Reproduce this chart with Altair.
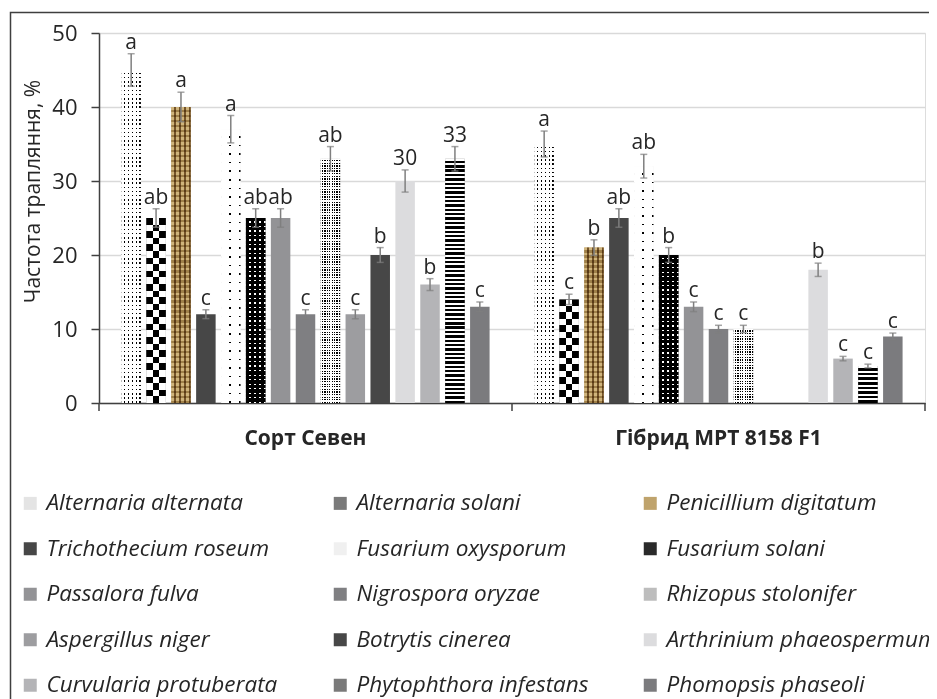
import altair as alt
import pandas as pd

groups = ["Сорт Севен", "Гібрид МРТ 8158 F1"]
species = [
    "Alternaria alternata", "Alternaria solani", "Penicillium digitatum",
    "Trichothecium roseum", "Fusarium oxysporum", "Fusarium solani",
    "Passalora fulva", "Nigrospora oryzae", "Rhizopus stolonifer",
    "Aspergillus niger", "Botrytis cinerea", "Arthrinium phaeospermum",
    "Curvularia protuberata", "Phytophthora infestans", "Phomopsis phaseoli",
]
values_g1 = [45, 25, 40, 12, 37, 25, 25, 12, 33, 12, 20, 30, 16, 33, 13]
values_g2 = [35, 14, 21, 25, 32, 20, 13, 10, 10, None, None, 18, 6, 5, 9]
err_g1 = [2.2, 1.25, 2.0, 0.6, 1.85, 1.25, 1.25, 0.6, 1.65, 0.6, 1.0, 1.5, 0.8, 1.65, 0.65]
err_g2 = [1.75, 0.7, 1.05, 1.25, 1.6, 1.0, 0.65, 0.5, 0.5, None, None, 0.9, 0.3, 0.25, 0.45]
letters_g1 = ["a", "ab", "a", "c", "a", "ab", "ab", "c", "ab", "c", "b", "30", "b", "33", "c"]
letters_g2 = ["a", "c", "b", "ab", "ab", "b", "c", "c", "c", "", "", "b", "c", "c", "c"]

colors = ["#e4e4e4", "#7a7a7a", "#bfa36c", "#474747", "#f0f0f0", "#2a2a2a",
          "#939396", "#7f7f82", "#bdbdbd", "#9d9da0", "#474747", "#dcdcde",
          "#b4b4b7", "#7a7a7a", "#7b7b7e"]

rows = []
for g, vals, errs, lets in [(groups[0], values_g1, err_g1, letters_g1),
                            (groups[1], values_g2, err_g2, letters_g2)]:
    for s, v, e, l in zip(species, vals, errs, lets):
        if v is None:
            continue
        rows.append({"group": g, "species": s, "value": v,
                     "top": v + e, "lo": v - e, "letter": l})
df = pd.DataFrame(rows)

# legend is laid out column by column in Vega; reorder so rows read as in the reference
legend_order = [species[i] for i in (0, 3, 6, 9, 12, 1, 4, 7, 10, 13, 2, 5, 8, 11, 14)]
legend_colors = [colors[species.index(s)] for s in legend_order]

FONT = "Open Sans"
TXT = "#262626"
AX = "#404040"
W, H = 826, 370
PX_PER_UNIT = H / 50.0
BAR_W = 19.5

X = alt.X("group:N", scale=alt.Scale(domain=groups, paddingInner=0, paddingOuter=0),
          axis=alt.Axis(title=None, labelAngle=0, ticks=False, domainColor=AX, domainWidth=1.5,
                        labelFont=FONT, labelFontSize=21, labelFontWeight="bold",
                        labelColor=TXT, labelPadding=24, labelLimit=500))
XO = alt.XOffset("species:N", scale=alt.Scale(domain=species, paddingInner=0.217, paddingOuter=0.9))
Y = alt.Y("value:Q", scale=alt.Scale(domain=[0, 50]),
          axis=alt.Axis(values=[0, 10, 20, 30, 40, 50], grid=True, gridColor="#d9d9d9",
                        gridWidth=1.5, domainColor=AX, domainWidth=1.5, tickColor=AX,
                        tickWidth=1.5, tickSize=8, labelFont=FONT, labelFontSize=22,
                        labelColor=TXT, labelPadding=14,
                        title="Частота трапляння, %", titleFont=FONT, titleFontSize=21,
                        titleFontWeight="normal", titleColor=TXT, titleAngle=270,
                        titleX=-56, titleY=158))


def stripes(n, frac, bg, fg, along_y):
    stops = []
    for i in range(n):
        a = i / n
        b = (i + 1 - frac) / n
        c = (i + 1) / n
        stops += [(a, bg), (b, bg), (b, fg), (c, fg)]
    return alt.LinearGradient(
        gradient="linear",
        stops=[alt.GradientStop(offset=round(o, 5), color=c) for o, c in stops],
        x1=0, y1=0, x2=0 if along_y else 1, y2=1 if along_y else 0)


def ny(value, period):
    return max(1, int(round(value * PX_PER_UNIT / period)))


def pattern_layers(sp, value):
    out = []
    if sp in ("Alternaria alternata", "Fusarium oxysporum", "Rhizopus stolonifer"):
        per = {"Alternaria alternata": 4.2, "Fusarium oxysporum": 8.5, "Rhizopus stolonifer": 2.6}[sp]
        dot = {"Alternaria alternata": 1.5, "Fusarium oxysporum": 1.5, "Rhizopus stolonifer": 1.3}[sp]
        nx = max(1, int(round(BAR_W / per)))
        out.append((stripes(ny(value, per), dot / per, "white", "black", True), None))
        out.append((stripes(nx, dot / (BAR_W / nx), "white", "black", False), "lighten"))
    elif sp == "Fusarium solani":
        per = 4.5
        nx = 4
        out.append((stripes(ny(value, per), 1.4 / per, "black", "white", True), None))
        out.append((stripes(nx, 1.4 / (BAR_W / nx), "black", "white", False), "darken"))
    elif sp == "Alternaria solani":
        out.append((stripes(ny(value, 13), 0.5, "black", "white", True), None))
        g = alt.LinearGradient(gradient="linear", stops=[
            alt.GradientStop(offset=0, color="black"), alt.GradientStop(offset=0.333, color="black"),
            alt.GradientStop(offset=0.333, color="white"), alt.GradientStop(offset=0.667, color="white"),
            alt.GradientStop(offset=0.667, color="black"), alt.GradientStop(offset=1, color="black")],
            x1=0, y1=0, x2=1, y2=0)
        out.append((g, "difference"))
    elif sp == "Penicillium digitatum":
        out.append((stripes(ny(value, 5), 0.45, "#cfb47c", "#9f8049", True), None))
        out.append((stripes(4, 0.35, "#ffffff", "#8f7550", False), "multiply"))
    elif sp == "Phytophthora infestans":
        out.append((stripes(ny(value, 4.4), 0.55, "white", "black", True), None))
    return out


bars = alt.Chart(df).mark_bar().encode(
    x=X, xOffset=XO, y=Y,
    color=alt.Color("species:N", scale=alt.Scale(domain=legend_order, range=legend_colors),
                    legend=alt.Legend(title=None, orient="none", legendX=-80, legendY=459,
                                      columns=3, gridAlign="all", symbolType="square",
                                      symbolSize=169, symbolStrokeWidth=0,
                                      labelFont=FONT, labelFontStyle="italic",
                                      labelFontSize=22.5, labelColor=TXT, labelLimit=500,
                                      labelOffset=5, rowPadding=22.5, columnPadding=11,
                                      padding=0)),
)

layers = [bars]
for _, r in df.iterrows():
    for grad, blend in pattern_layers(r["species"], r["value"]):
        sub = df[(df["group"] == r["group"]) & (df["species"] == r["species"])]
        kw = {"fill": grad, "strokeWidth": 0}
        if blend:
            kw["blend"] = blend
        layers.append(alt.Chart(sub).mark_bar(**kw).encode(x=X, xOffset=XO, y=Y))

err_rule = alt.Chart(df).mark_rule(color="#7f7f7f", strokeWidth=1.5).encode(
    x=X, xOffset=XO, y=alt.Y("lo:Q"), y2="top:Q")
cap_top = alt.Chart(df).mark_tick(color="#7f7f7f", thickness=1.5, size=7).encode(
    x=X, xOffset=XO, y=alt.Y("top:Q"))
cap_lo = alt.Chart(df).mark_tick(color="#7f7f7f", thickness=1.5, size=7).encode(
    x=X, xOffset=XO, y=alt.Y("lo:Q"))
labels = alt.Chart(df).mark_text(baseline="bottom", dy=-1, font=FONT, fontSize=21,
                                 color=TXT).encode(
    x=X, xOffset=XO, y=alt.Y("top:Q"), text="letter:N")

one = pd.DataFrame({"k": [0]})
tick_start = alt.Chart(one).mark_rule(color=AX, strokeWidth=1.5).encode(
    x=alt.value(0), y=alt.value(H), y2=alt.value(H + 8))
tick_mid = alt.Chart(one).mark_rule(color=AX, strokeWidth=1.5).encode(
    x=alt.value(W / 2), y=alt.value(H), y2=alt.value(H + 8))
tick_end = alt.Chart(one).mark_rule(color=AX, strokeWidth=1.5).encode(
    x=alt.value(W), y=alt.value(H), y2=alt.value(H + 8))
frame = alt.Chart(one).mark_rect(fillOpacity=0, stroke="#3f3f3f", strokeWidth=1.5).encode(
    x=alt.value(-88.5), x2=alt.value(1200), y=alt.value(-20.5), y2=alt.value(1200))

layers += [err_rule, cap_top, cap_lo, labels, tick_start, tick_mid, tick_end, frame]

chart = alt.layer(*layers).properties(
    width=W, height=H,
    autosize=alt.AutoSizeParams(type="none"),
    padding={"left": 91, "top": 25, "right": 4, "bottom": 296},
).configure_view(stroke=None).configure(background="white")

chart.save("out.html", embed_options={"renderer": "svg", "actions": False})
